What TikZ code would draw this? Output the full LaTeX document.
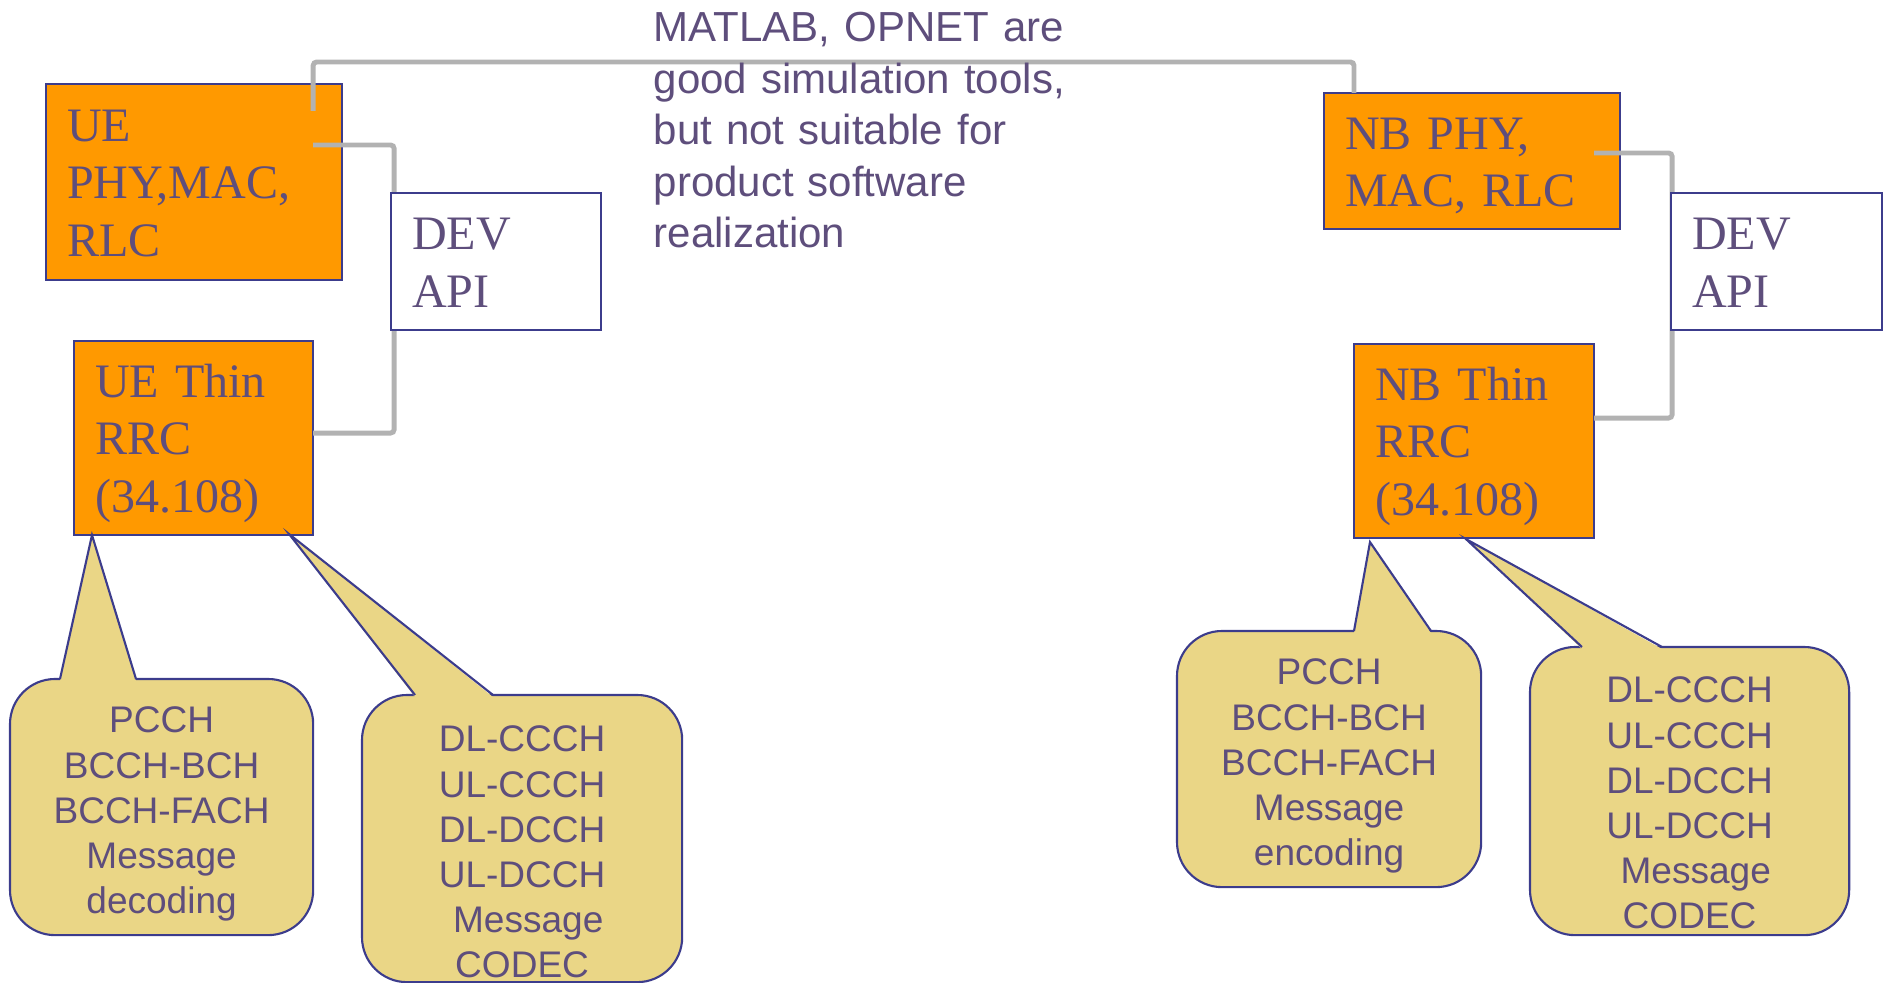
\documentclass[tikz,border=0pt]{standalone}
\usepackage{fontspec}
\setmainfont{Liberation Serif}
\setsansfont{Liberation Sans}
\usetikzlibrary{calc}
\definecolor{txtpurple}{RGB}{94,78,124}
\definecolor{boxedge}{RGB}{60,60,140}
\definecolor{layerorange}{RGB}{255,153,0}
\definecolor{notefill}{RGB}{234,214,134}
\definecolor{linkgray}{RGB}{178,178,178}
\newcommand{\layerfont}{\fontsize{13.66pt}{16.36pt}\selectfont}
\newcommand{\calloutfont}{\sffamily\fontsize{10.53pt}{12.8pt}\selectfont}
\newcommand{\remarkfont}{\sffamily\fontsize{11.95pt}{14.6pt}\selectfont}
\tikzset{layer/.style={draw=boxedge,line width=0.6pt,outer sep=0,inner xsep=0.21cm,inner ysep=0,anchor=north west,align=left,text=txtpurple,font=\layerfont,text height=0.455cm},
    two lines/.style={text depth=0.695cm},
    three lines/.style={text depth=1.27cm}}

\begin{document}
\begin{tikzpicture}[x=0.01cm, y=-0.01cm,
    link/.style={draw=linkgray, line width=1.4pt, rounded corners=1pt},
    msgbox/.style={draw=boxedge, fill=notefill, line width=0.6pt, rounded corners=0.45cm, outer sep=0, inner sep=0, anchor=north west},
    msgtext/.style={anchor=base, align=center, text=txtpurple, font=\calloutfont, inner sep=0, text width=3cm}]
    \useasboundingbox (0,0) rectangle (1890,983);

    % protocol layers
    \node[layer, three lines, fill=layerorange, minimum width=2.96cm, minimum height=1.96cm, text width=2.54cm] (uePhy) at (46,84) {UE\\PHY,MAC,\\RLC};
    \node[layer, three lines, fill=layerorange, minimum width=2.39cm, minimum height=1.94cm, text width=1.97cm] (ueThin) at (74,341) {UE Thin\\RRC\\(34.108)};
    \node[layer, two lines, fill=layerorange, minimum width=2.96cm, minimum height=1.36cm, text width=2.54cm] (nbPhy) at (1324,93) {NB PHY,\\MAC, RLC};
    \node[layer, three lines, fill=layerorange, minimum width=2.40cm, minimum height=1.94cm, text width=1.98cm] (nbThin) at (1354,344) {NB Thin\\RRC\\(34.108)};

    % links
    \coordinate (ueTapA) at ($(uePhy.north east)+(-29,27)$);
    \coordinate (ueTapB) at ($(uePhy.north east)+(-29,61)$);
    \coordinate (nbTap) at ($(nbPhy.north east)+(-26,60)$);
    \draw[link] (ueTapA) |- ($(nbPhy.north west)+(30,-31)$) -- ($(nbPhy.north west)+(30,0)$);
    \draw[link] (ueTapB) -| ($(ueThin.east)+(81,-5)$) -- ($(ueThin.east)+(0,-5)$);
    \draw[link] (nbTap) -| ($(nbThin.east)+(78,-23)$) -- ($(nbThin.east)+(0,-23)$);

    \node[layer, two lines, fill=white, minimum width=2.10cm, minimum height=1.37cm, text width=1.68cm] (devL) at (391,193) {DEV\\API};
    \node[layer, two lines, fill=white, minimum width=2.11cm, minimum height=1.37cm, text width=1.69cm] (devR) at (1671,193) {DEV\\API};

    % callouts
    \node[msgbox, minimum width=3.03cm, minimum height=2.56cm] (msgL1) at (10,679) {};
    \node[msgbox, minimum width=3.20cm, minimum height=2.87cm] (msgL2) at (362,695) {};
    \node[msgbox, minimum width=3.04cm, minimum height=2.56cm] (msgR1) at (1177,631) {};
    \node[msgbox, minimum width=3.19cm, minimum height=2.88cm] (msgR2) at (1530,647) {};
    \coordinate (tipL1) at ($(ueThin.south west)+(18,0)$);
    \coordinate (tipL2) at ($(ueThin.south east)+(-24,-1)$);
    \coordinate (tipR1) at ($(nbThin.south west)+(16,4)$);
    \coordinate (tipR2) at ($(nbThin.south west)+(112,1)$);
    \foreach \m/\a/\b in {L1/50/126, L2/53/131, R1/177/254, R2/52/132} {
        \fill[notefill] ($(msg\m.north west)+(\a,2)$) -- (tip\m) -- ($(msg\m.north west)+(\b,2)$) -- cycle;
        \draw[boxedge, line width=0.6pt] ($(msg\m.north west)+(\a,0)$) -- (tip\m) -- ($(msg\m.north west)+(\b,0)$);
    }
    \node[msgtext] (txtL1) at ($(msgL1.north)+(0,54)$) {PCCH\\BCCH-BCH\\BCCH-FACH\\Message\\decoding};
    \node[msgtext] (txtL2) at ($(msgL2.north)+(0,57)$) {DL-CCCH\\UL-CCCH\\DL-DCCH\\UL-DCCH\\~Message\\CODEC};
    \node[msgtext] (txtR1) at ($(msgR1.north)+(0,54)$) {PCCH\\BCCH-BCH\\BCCH-FACH\\Message\\encoding};
    \node[msgtext] (txtR2) at ($(msgR2.north)+(0,56)$) {DL-CCCH\\UL-CCCH\\DL-DCCH\\UL-DCCH\\~Message\\CODEC};

    % remark
    \node[anchor=base west, align=left, text width=4.6cm, inner sep=0, text=txtpurple, font=\remarkfont] (remark) at (653,42)
        {MATLAB, OPNET are\\good simulation tools,\\but not suitable for\\product software\\realization};
\end{tikzpicture}
\end{document}
